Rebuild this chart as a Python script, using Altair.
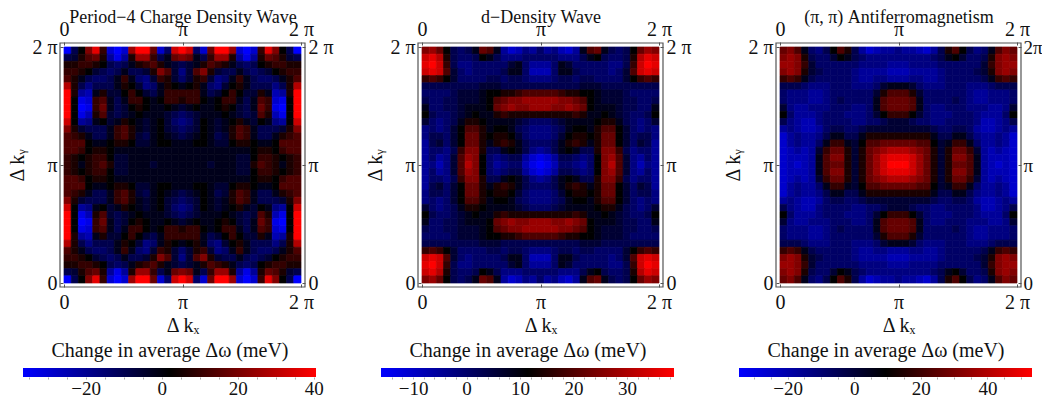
import math
import altair as alt
import pandas as pd

alt.data_transformers.disable_max_rows()

TITLES = ["Period\u22124 Charge Density Wave", "d\u2212Density Wave", "(\u03c0, \u03c0) Antiferromagnetism"]
BAR_DOMAINS = [(-36.5, 40.6), (-16.0, 38.8), (-34.6, 53.4)]
BAR_LABELS = [[-20, 0, 20, 40], [-10, 0, 10, 20, 30], [-20, 0, 20, 40]]
BAR_MINOR = [
    [-35, -30, -25, -20, -15, -10, -5, 0, 5, 10, 15, 20, 25, 30, 35, 40],
    [-14, -12, -10, -8, -6, -4, -2, 0, 2, 4, 6, 8, 10, 12, 14, 16, 18, 20, 22, 24, 26, 28, 30, 32, 34, 36, 38],
    [-30, -25, -20, -15, -10, -5, 0, 5, 10, 15, 20, 25, 30, 35, 40, 45, 50],
]
BAR_TITLE = "Change in average \u0394\u03c9 (meV)"

# Top-left quadrant of each map, top row first; colour level -10 (blue) .. 0 (black) .. 10 (red)
CDW = [
 [-10,-3,0,5,9,2,-8,-10,-8,6,10,10,4,-8,-4,8,10],
 [-3,-2,1,3,4,1,-6,-9,-6,1,6,6,2,-3,-1,4,5],
 [1,1,2,2,1,0,-3,-4,-3,-1,1,2,3,1,-1,-2,-3],
 [2,2,1,0,-2,-3,-4,-3,-1,-3,-3,-2,1,5,3,-2,-5],
 [3,1,-1,-3,-4,-4,-3,-1,2,-1,-4,-5,-2,2,1,-2,-4],
 [7,1,-3,-5,-3,-3,-3,-1,1,0,-2,-5,-4,-1,1,0,-1],
 [10,1,-6,-7,-1,1,-2,-2,0,2,0,-2,-3,-1,2,2,2],
 [10,0,-9,-8,2,3,-1,-3,-1,2,2,0,-1,0,2,2,1],
 [10,0,-10,-9,2,4,-1,-3,-2,0,1,0,-1,-1,0,-1,-2],
 [10,0,-9,-7,1,3,-2,-3,-2,-1,0,-1,-1,-1,-2,-3,-4],
 [8,0,-6,-5,-1,0,-2,-1,1,0,-1,-2,-1,0,-2,-4,-5],
 [5,1,-2,-3,-3,-3,-1,2,3,1,-1,-2,-1,0,-2,-3,-4],
 [3,2,1,-1,-3,-3,-1,2,3,1,-2,-3,-1,0,-1,-2,-3],
 [3,3,3,0,-1,-1,0,1,1,0,-2,-2,-1,0,0,-1,-1],
 [3,3,2,0,1,1,0,-1,-1,-1,-1,-1,-1,-1,-1,-1,-1],
 [2,1,0,1,2,2,0,-2,-2,-1,-1,-1,-1,-1,-1,-1,-1],
 [2,1,-1,1,2,3,1,-2,-2,-1,-1,-1,-2,-1,-1,-1,-1],
]
DDW = [
 [5,6,4,0,-3,-4,-3,-1,4,3,-1,-6,-8,-7,-5,-6,-4],
 [8,9,7,1,-3,-4,-4,-3,0,-1,-3,-5,-5,-5,-4,-4,-4],
 [9,10,8,2,-3,-5,-5,-4,-4,-4,-4,-4,-2,-1,-4,-6,-6],
 [8,9,8,3,-2,-4,-5,-4,-4,-4,-4,-3,-1,-1,-4,-7,-7],
 [2,3,2,0,-2,-4,-4,-4,-4,-3,-3,-4,-3,-3,-4,-5,-5],
 [-3,-3,-3,-3,-3,-3,-3,-3,-2,-2,-2,-3,-3,-3,-3,-3,-3],
 [-4,-4,-4,-4,-3,-2,-2,-2,-1,0,0,1,1,2,3,3,3],
 [-3,-4,-4,-3,-3,-2,-2,-2,-1,0,3,4,5,5,6,6,6],
 [-1,-4,-4,-3,-3,-2,-1,-1,-1,0,4,5,6,5,5,6,6],
 [0,-3,-4,-4,-3,-2,-1,0,-1,-1,1,2,1,1,1,1,1],
 [-2,-4,-5,-4,-3,-1,1,1,0,-1,-1,-1,-1,-2,-3,-4,-4],
 [-5,-4,-5,-4,-2,0,3,3,1,-1,0,0,-1,-3,-4,-5,-5],
 [-5,-3,-3,-4,-2,0,4,4,1,0,1,1,0,-2,-4,-5,-5],
 [-6,-3,-2,-4,-2,0,4,4,1,-1,1,2,1,-1,-3,-4,-4],
 [-6,-4,-4,-5,-3,2,5,5,1,-3,-3,-1,0,-1,-3,-5,-6],
 [-6,-4,-6,-5,-2,3,6,5,0,-4,-5,-4,-3,-3,-6,-8,-9],
 [-6,-5,-7,-5,-2,3,7,5,0,-4,-6,-5,-4,-4,-7,-9,-10],
]
AFM = [
 [4,5,3,-1,-4,-5,-3,0,3,1,-3,-6,-8,-7,-6,-6,-5],
 [5,6,5,1,-3,-4,-4,-2,0,-1,-3,-4,-5,-5,-5,-5,-5],
 [6,6,5,2,-2,-4,-4,-4,-4,-4,-4,-5,-5,-5,-5,-6,-6],
 [5,6,5,1,-2,-3,-4,-4,-4,-4,-5,-6,-6,-6,-6,-7,-7],
 [2,3,2,-1,-3,-4,-4,-4,-4,-4,-5,-6,-6,-5,-5,-6,-6],
 [-3,-3,-3,-4,-5,-5,-5,-4,-4,-4,-5,-5,-5,-4,-2,-1,-1],
 [-4,-5,-5,-5,-6,-6,-5,-4,-4,-4,-4,-4,-4,-2,1,3,3],
 [-4,-5,-5,-5,-6,-6,-5,-4,-3,-4,-4,-4,-4,-1,3,4,4],
 [-2,-5,-6,-6,-5,-5,-5,-4,-4,-4,-5,-5,-4,-1,3,4,4],
 [0,-4,-6,-6,-6,-5,-4,-4,-4,-5,-5,-5,-4,-2,0,2,2],
 [-3,-5,-6,-7,-7,-5,-4,-4,-4,-4,-5,-5,-4,-4,-3,-2,-2],
 [-6,-5,-6,-7,-7,-6,-4,-3,-3,-4,-4,-3,-2,-2,-2,-2,-2],
 [-8,-6,-5,-6,-6,-5,-3,-1,-1,-3,-3,-1,1,1,1,1,1],
 [-8,-6,-5,-6,-6,-4,-1,2,2,-1,-2,0,3,3,4,4,4],
 [-8,-7,-6,-7,-6,-2,2,4,4,1,-2,1,4,5,6,7,7],
 [-8,-7,-7,-7,-6,-1,3,5,5,1,-2,1,4,6,8,9,9],
 [-8,-7,-8,-7,-6,-1,3,4,4,1,-2,1,4,6,8,10,10],
]
MAPS = [CDW, DDW, AFM]

W, H = 1034, 390
STEP = 358
FONT = "Liberation Serif"
INK = "#111111"
FRAME = "#555555"
TAU = 2 * math.pi
TICKS = [0, math.pi, TAU]
LABEL = "datum.value < 1 ? '0' : datum.value < 4 ? '\u03c0' : '2 \u03c0'"
LABEL_TIGHT = "datum.value < 1 ? '0' : datum.value < 4 ? '\u03c0' : '2\u03c0'"
FS = 20
TITLE_FS = 18
COLOR = alt.Scale(domain=[-10, 0, 10], range=["#0000ff", "#000000", "#ff0000"], clamp=True, interpolate="rgb")


def expand(q):
    rows = [r + r[-2::-1] for r in q]
    return rows + rows[-2::-1]


def cells(q):
    full = expand(q)
    n = len(full)
    recs = []
    for j, row in enumerate(full):
        for i, v in enumerate(row):
            recs.append({"x": i * TAU / n, "x2": (i + 1) * TAU / n,
                         "y": (n - j - 1) * TAU / n, "y2": (n - j) * TAU / n, "v": v})
    return pd.DataFrame(recs)


def k_axis(orient, offset, title=None, **kw):
    args = dict(orient=orient, offset=offset, values=TICKS, labelExpr=LABEL, domain=False, grid=False,
                tickSize=3, tickColor=FRAME, tickWidth=1, labelFont=FONT, labelFontSize=FS, labelColor=INK,
                labelPadding=3, labelFlush=False, labelOverlap=False, titleFont=FONT, titleFontSize=FS,
                titleFontWeight="normal", titleColor=INK, title=title)
    args.update(kw)
    return alt.Axis(**args)


def panel(idx):
    px = STEP * idx
    X = alt.Scale(domain=[0, TAU], range=[56 + px, 293 + px])
    Y = alt.Scale(domain=[0, TAU], range=[275, 39])
    q = MAPS[idx]
    heat = alt.Chart(cells(q)).mark_rect(strokeWidth=0.7).encode(
        x=alt.X("x:Q", scale=X, axis=k_axis("bottom", 276 - H, "\u0394 k\u2093", titlePadding=3, labelPadding=5)),
        x2="x2:Q",
        y=alt.Y("y:Q", scale=Y, axis=k_axis("left", -(55 + px), "\u0394 k\u1d67", titlePadding=4)),
        y2="y2:Q",
        color=alt.Color("v:Q", legend=None, scale=COLOR),
        stroke=alt.Stroke("v:Q", legend=None, scale=COLOR),
    )
    frame_df = pd.DataFrame({"x": [-0.106], "x2": [TAU + 0.106], "y": [-0.106], "y2": [TAU + 0.106]})
    right_kw = dict(labelExpr=LABEL_TIGHT, labelFontSize=FS - 1, labelPadding=2) if idx == 2 else {}
    frame = alt.Chart(frame_df).mark_rect(fill=None, stroke=FRAME, strokeWidth=1.2).encode(
        x=alt.X("x:Q", scale=X, axis=k_axis("top", -37, TITLES[idx], titlePadding=-7, labelPadding=3,
                                            titleFontSize=TITLE_FS)),
        x2="x2:Q",
        y=alt.Y("y:Q", scale=Y, axis=k_axis("right", 294 + px - W, **right_kw)),
        y2="y2:Q",
    )
    lo, hi = BAR_DOMAINS[idx]
    bx = alt.Scale(domain=[lo, hi], range=[15 + px, 308 + px])
    by = alt.Scale(domain=[0, 1], range=[369, 360])
    bar_df = pd.DataFrame({"x": [lo], "x2": [hi], "y": [0], "y2": [1]})
    grad = alt.LinearGradient(gradient="linear", x1=0, x2=1, y1=0, y2=0,
                              stops=[alt.GradientStop(offset=0, color="#0000ff"),
                                     alt.GradientStop(offset=0.5, color="#000000"),
                                     alt.GradientStop(offset=1, color="#ff0000")])
    shown = ",".join(str(v) for v in BAR_LABELS[idx])
    bar = alt.Chart(bar_df).mark_rect(color=grad).encode(
        x=alt.X("x:Q", scale=bx, axis=alt.Axis(
            orient="bottom", offset=369 - H, values=BAR_MINOR[idx], domain=False, grid=False,
            tickSize=2, tickColor="#aaaaaa", labelFont=FONT, labelFontSize=FS - 1, labelColor=INK,
            labelPadding=0, labelFlush=False, labelOverlap=False, title=None,
            labelExpr=f"indexof([{shown}], datum.value) >= 0 ? replace(format(datum.value,'d'),'-','\u2212') : ''")),
        x2="x2:Q",
        y=alt.Y("y:Q", scale=by, axis=None),
        y2="y2:Q",
    )
    cap = alt.Chart(bar_df).mark_rect(opacity=0).encode(
        x=alt.X("x:Q", scale=bx, axis=alt.Axis(
            orient="top", offset=-360, domain=False, ticks=False, labels=False, grid=False, title=BAR_TITLE,
            titleFont=FONT, titleFontSize=FS, titleFontWeight="normal", titleColor=INK, titlePadding=8)),
        x2="x2:Q",
        y=alt.Y("y:Q", scale=by, axis=None),
        y2="y2:Q",
    )
    return [heat, frame, bar, cap]


layers = panel(0) + panel(1) + panel(2)
chart = alt.layer(*layers).resolve_scale(x="independent", y="independent", color="shared", stroke="shared").resolve_axis(
    x="independent", y="independent").properties(
    width=W, height=H, padding=0, background="white", autosize=alt.AutoSizeParams(type="none")
).configure_view(stroke=None)
chart.save("out.html", embed_options={"renderer": "svg", "actions": False})
